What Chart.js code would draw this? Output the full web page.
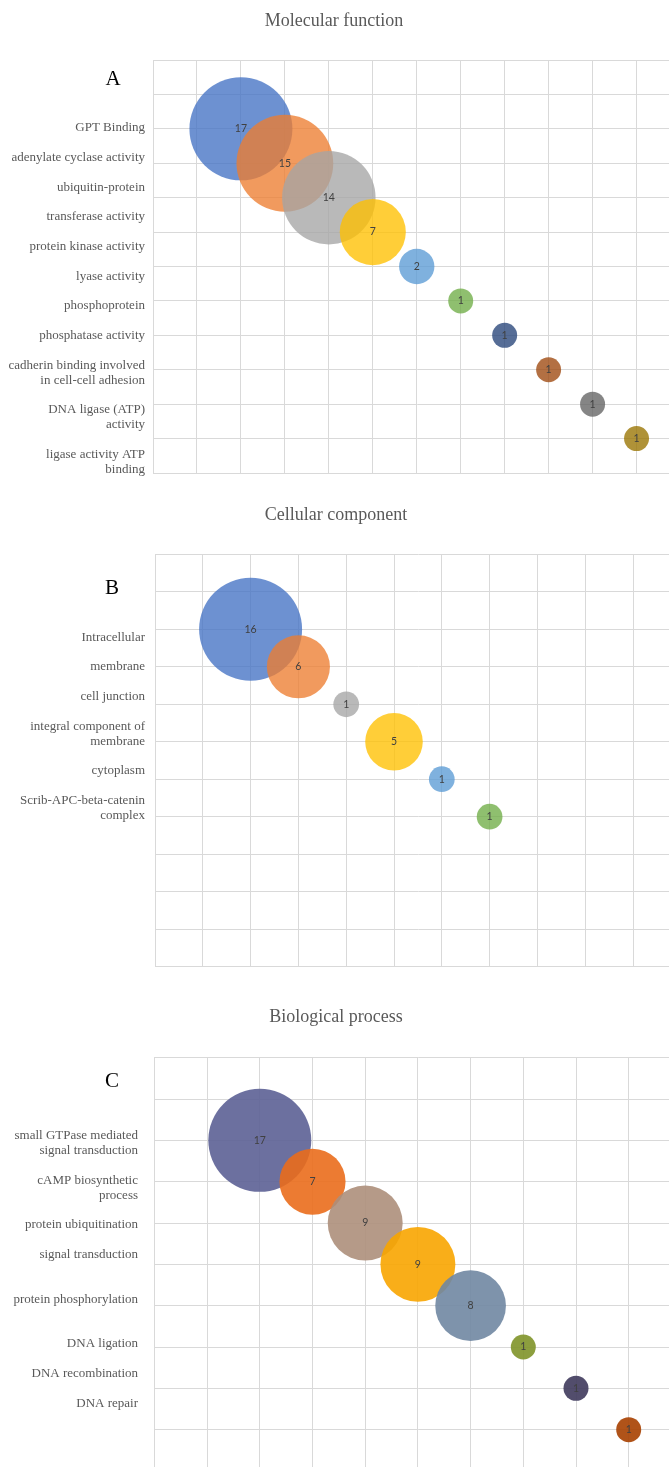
<!DOCTYPE html>
<html>
<head>
<meta charset="utf-8">
<script src="https://cdn.jsdelivr.net/npm/chart.js@4/dist/chart.umd.min.js"></script>
<style>
  html, body { margin: 0; padding: 0; background: #fff; overflow: hidden; width: 669px; height: 1467px; }
  .panel { position: absolute; left: 0; }
</style>
</head>
<body>
<div class="panel" style="top:0"><canvas id="chartA" width="684" height="490"></canvas></div>
<div class="panel" style="top:490px"><canvas id="chartB" width="684" height="490"></canvas></div>
<div class="panel" style="top:980px"><canvas id="chartC" width="684" height="495"></canvas></div>
<script>
// Molecular function (A)
const mfLabels = [
    ['GPT Binding'], ['adenylate cyclase activity'], ['ubiquitin-protein'], ['transferase activity'],
    ['protein kinase activity'], ['lyase activity'], ['phosphoprotein'], ['phosphatase activity'],
    ['cadherin binding involved', 'in cell-cell adhesion'], ['DNA ligase (ATP)', 'activity'],
    ['ligase activity ATP', 'binding']
];
const mfCounts = [17, 15, 14, 7, 2, 1, 1, 1, 1, 1];
const mfX = [2, 3, 4, 5, 6, 7, 8, 9, 10, 11];
const mfY = [10, 9, 8, 7, 6, 5, 4, 3, 2, 1];

// Cellular component (B)
const ccLabels = [
    ['Intracellular'], ['membrane'], ['cell junction'], ['integral component of', 'membrane'],
    ['cytoplasm'], ['Scrib-APC-beta-catenin', 'complex']
];
const ccCounts = [16, 6, 1, 5, 1, 1];
const ccX = [2, 3, 4, 5, 6, 7];
const ccY = [9, 8, 7, 6, 5, 4];

// Biological process (C) - blank lines kept as in the original text box
const bpLabels = [
    ['small GTPase mediated', 'signal transduction'], ['cAMP biosynthetic', 'process'],
    ['protein ubiquitination'], ['signal transduction'], ['', 'protein phosphorylation'],
    ['', 'DNA ligation'], ['DNA recombination'], ['DNA repair']
];
const bpCounts = [17, 7, 9, 9, 8, 1, 1, 1];
const bpX = [2, 3, 4, 5, 6, 7, 8, 9];
const bpY = [8, 7, 6, 5, 4, 3, 2, 1];

const officeColors = ['#4472C4', '#ED7D31', '#A5A5A5', '#FFC000', '#5B9BD5', '#70AD47', '#264478', '#9E480E', '#636363', '#997300'];
const bpColors = ['#5C6195', '#EA6D1C', '#AD8F7B', '#F8A500', '#7087A2', '#809329', '#3F3A5C', '#A74000'];

const SERIF = '"Liberation Serif", "Times New Roman", serif';
const GRID = '#d9d9d9';

function withAlpha(hex, a) {
    const n = parseInt(hex.slice(1), 16);
    return 'rgba(' + (n >> 16) + ',' + ((n >> 8) & 255) + ',' + (n & 255) + ',' + a + ')';
}

// titles, panel letter and the category text block on the left
const panelText = {
    id: 'panelText',
    afterDraw(chart, args, opts) {
        const ctx = chart.ctx;
        ctx.save();
        ctx.fillStyle = '#595959';
        ctx.font = '18px ' + SERIF;
        ctx.textAlign = 'center';
        ctx.textBaseline = 'alphabetic';
        ctx.fillText(opts.title, opts.titleX, opts.titleY);

        ctx.fillStyle = '#000';
        ctx.font = '21px ' + SERIF;
        ctx.fillText(opts.letter, opts.letterX, opts.letterY);

        ctx.fillStyle = '#595959';
        ctx.font = '13px ' + SERIF;
        ctx.textAlign = 'right';
        ctx.textBaseline = 'middle';
        let y = opts.labelTop;
        opts.labels.forEach(function(lines) {
            lines.forEach(function(line, i) {
                if (i > 0) y += opts.lineStep;
                ctx.fillText(line, opts.labelRight, y);
            });
            y += opts.lineStep + opts.gap;
        });
        ctx.restore();
    }
};

// value written in the middle of each bubble
const bubbleValues = {
    id: 'bubbleValues',
    afterDatasetsDraw(chart) {
        const ctx = chart.ctx;
        const counts = chart.config.options.plugins.bubbleValues.counts;
        ctx.save();
        ctx.fillStyle = '#404040';
        ctx.font = '10.5px Lato, "Open Sans", sans-serif';
        ctx.textAlign = 'center';
        ctx.textBaseline = 'middle';
        chart.getDatasetMeta(0).data.forEach(function(el, i) {
            ctx.fillText(String(counts[i]), el.x, el.y);
        });
        ctx.restore();
    }
};

function makeChart(id, p) {
    const maxCount = Math.max.apply(null, p.counts);
    const axis = function(max) {
        return {
            type: 'linear', min: 0, max: max,
            ticks: { display: false, count: max + 1 },
            grid: { color: GRID, lineWidth: 1, drawTicks: false },
            border: { color: GRID, width: 1 }
        };
    };
    return new Chart(document.getElementById(id), {
        type: 'bubble',
        data: {
            datasets: [{
                data: p.xs.map(function(x, i) { return { x: x, y: p.ys[i] }; }),
                backgroundColor: p.colors.map(function(c) { return withAlpha(c, p.alpha); }),
                borderWidth: 0,
                // Excel-style sizing: area proportional to value, biggest = 1/8 of plot height
                radius: function(c) {
                    const area = c.chart.chartArea;
                    const rMax = area ? Math.min(area.width, area.height) / 8 : 51.5;
                    return rMax * Math.sqrt(p.counts[c.dataIndex] / maxCount);
                }
            }]
        },
        options: {
            responsive: false,
            animation: false,
            events: [],
            layout: { padding: p.padding, autoPadding: false },
            scales: { x: axis(p.xMax), y: axis(p.yMax) },
            plugins: {
                legend: { display: false },
                tooltip: { enabled: false },
                bubbleValues: { counts: p.counts },
                panelText: p.text
            }
        },
        plugins: [panelText, bubbleValues]
    });
}

makeChart('chartA', {
    counts: mfCounts, xs: mfX, ys: mfY, colors: officeColors, alpha: 0.78, xMax: 12, yMax: 12,
    padding: { top: 60, left: 153, right: 3.5, bottom: 17 },
    text: { title: 'Molecular function', titleX: 334, titleY: 25.5, letter: 'A', letterX: 113, letterY: 85,
            labels: mfLabels, labelRight: 145, labelTop: 127.7, lineStep: 14.9, gap: 14.8 }
});

makeChart('chartB', {
    counts: ccCounts, xs: ccX, ys: ccY, colors: officeColors, alpha: 0.78, xMax: 11, yMax: 11,
    padding: { top: 64.3, left: 155, right: 3.2, bottom: 13.3 },
    text: { title: 'Cellular component', titleX: 336, titleY: 29.7, letter: 'B', letterX: 112, letterY: 103.7,
            labels: ccLabels, labelRight: 145, labelTop: 147.3, lineStep: 14.9, gap: 14.8 }
});

makeChart('chartC', {
    counts: bpCounts, xs: bpX, ys: bpY, colors: bpColors, alpha: 0.9, xMax: 10, yMax: 10,
    padding: { top: 77.7, left: 154.4, right: 2.6, bottom: 4 },
    text: { title: 'Biological process', titleX: 336, titleY: 42.3, letter: 'C', letterX: 112, letterY: 106.7,
            labels: bpLabels, labelRight: 138, labelTop: 155.7, lineStep: 14.9, gap: 14.8 }
});
</script>
</body>
</html>
